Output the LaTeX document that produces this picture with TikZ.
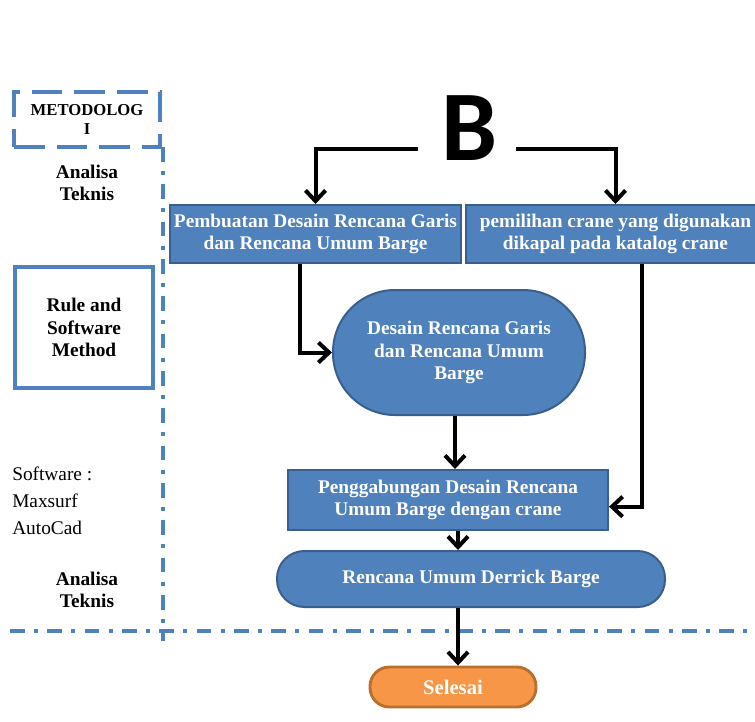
\documentclass[tikz,border=0pt]{standalone}
\usepackage{fontspec}
\setmainfont{Liberation Serif}
\newfontfamily\hurufb{Carlito}
\usetikzlibrary{arrows.meta}
\definecolor{birubox}{HTML}{4F81BD}
\definecolor{birutepi}{HTML}{3A5F8C}
\definecolor{oranye}{HTML}{F79646}
\definecolor{oranyetepi}{HTML}{B9702F}

\begin{document}
\begin{tikzpicture}[x=0.75pt,y=-0.75pt]
	\tikzstyle{every node}=[font=\bfseries\fontsize{14.5}{17}\selectfont, align=center, inner sep=0pt]
	\tikzstyle{prosesbox}=[draw=birutepi, fill=birubox, text=white, line width=1.5pt]
	\tikzstyle{selesaibox}=[draw=oranyetepi, fill=oranye, text=white, line width=2.2pt]
	\tikzstyle{panah}=[line width=3pt, -{Straight Barb[length=8pt,width=15pt]}]
	\tikzstyle{garisbatas}=[color=birubox, line width=3pt, dash pattern=on 11pt off 7pt on 3pt off 7pt]
	
	\useasboundingbox (0,0) rectangle (755,721);
	
	% kolom kiri
	\node [draw=birubox, line width=3pt, dash pattern=on 23pt off 9pt, minimum width=109.5pt, minimum height=41.25pt, font=\bfseries\fontsize{12.5}{14}\selectfont] (metode) at (87,119.5) {METODOLOG\\I};
	\draw [garisbatas] (163,147) -- (163,641);
	\draw [garisbatas] (10,631) -- (775,631);
	
	\node (analisa1) at (87,183) {Analisa\\Teknis};
	\node [draw=birubox, line width=3pt, minimum width=103.5pt, minimum height=90.75pt] (rule) at (84,327.5) {Rule and\\Software\\Method};
	\node [anchor=base west, align=left, font=\fontsize{14.5}{20}\selectfont] (software) at (12,534) {Software :\\Maxsurf\\AutoCad};
	\node (analisa2) at (87,590) {Analisa\\Teknis};
	
	% alur
	\node [font=\hurufb\bfseries\fontsize{75}{75}\selectfont, inner xsep=19pt] (B) at (470,128.5) {B};
	
	\node [prosesbox, minimum width=218.25pt, minimum height=43.5pt] (desain) at (315.5,234) {Pembuatan Desain Rencana Garis\\dan Rencana Umum Barge};
	\node [prosesbox, minimum width=224pt, minimum height=43.5pt] (crane) at (615.5,234) {pemilihan crane yang digunakan\\dikapal pada katalog crane};
	\node [prosesbox, rounded corners=46.5pt, minimum width=189pt, minimum height=93.75pt] (hasil) at (459,352.5) {Desain Rencana Garis\\dan Rencana Umum\\Barge};
	\node [prosesbox, minimum width=240pt, minimum height=45pt] (gabung) at (448,500) {Penggabungan Desain Rencana\\Umum Barge dengan crane};
	\node [prosesbox, rounded corners=20.5pt, minimum width=291pt, minimum height=42pt] (derrick) at (471,579) {Rencana Umum Derrick Barge};
	\node [selesaibox, rounded corners=14.5pt, minimum width=124.5pt, minimum height=30pt, font=\bfseries\fontsize{15.5}{17}\selectfont] (selesai) at (453,687) {Selesai};
	
	\draw [panah] ([yshift=-15pt,xshift=1.5pt]B.west) -| (desain.north);
	\draw [panah] ([yshift=-15pt,xshift=-6pt]B.east) -| (crane.north);
	\draw [panah] ([xshift=-11.6pt]desain.south) |- (hasil.west);
	\draw [panah] ([xshift=-3pt]hasil.south) -- ([xshift=-3pt]hasil.south |- gabung.north);
	\draw [panah] ([xshift=19.9pt]crane.south) |- ([yshift=-5pt]gabung.east);
	\draw [panah] ([xshift=7.5pt]gabung.south) -- ([xshift=7.5pt]gabung.south |- derrick.north);
	\draw [panah] ([xshift=-9.75pt]derrick.south) -- ([xshift=-9.75pt]derrick.south |- selesai.north);
	
\end{tikzpicture}
\end{document}
